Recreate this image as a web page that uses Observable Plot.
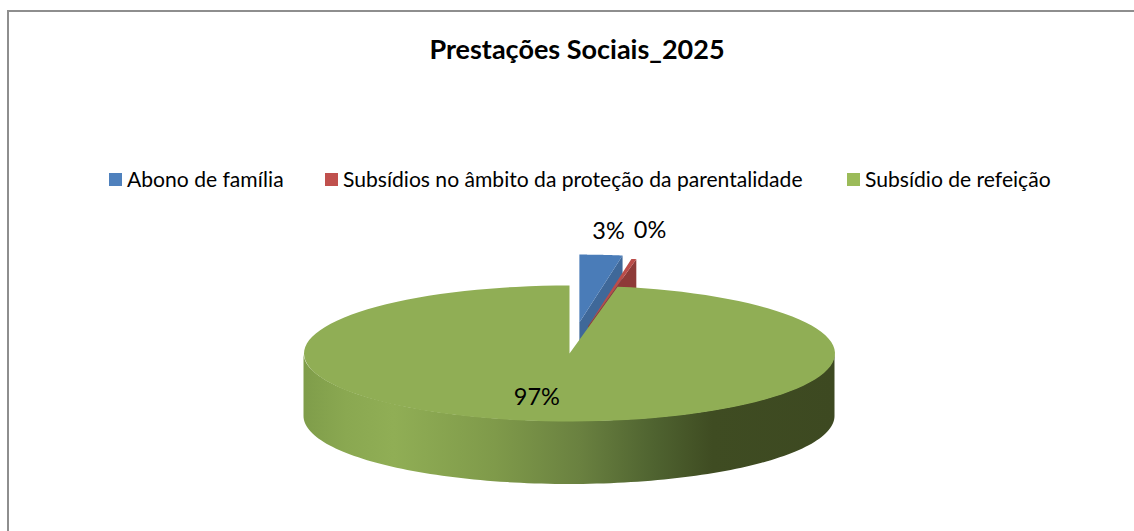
<!DOCTYPE html>
<html lang="pt">
<head>
<meta charset="utf-8">
<script src="https://cdn.jsdelivr.net/npm/d3@7"></script>
<script src="https://cdn.jsdelivr.net/npm/@observablehq/plot@0.6"></script>
<style>
  html, body { margin: 0; padding: 0; background: #fff; overflow: hidden; }
  #page { position: relative; width: 1134px; height: 531px; overflow: hidden; font-family: Lato, "Noto Sans", sans-serif; color: #000; }
  #frame { position: absolute; left: 7px; top: 10px; width: 1200px; height: 600px; border-left: 2px solid #8e8e8e; border-top: 2px solid #8e8e8e; }
  #title { position: absolute; left: 0; width: 1154px; top: 33px; text-align: center; font-size: 27px; font-weight: 700; line-height: 32px; white-space: nowrap; }
  #legend { position: absolute; top: 165.5px; left: 0; height: 26px; width: 1134px; font-size: 21.1px; line-height: 26px; }
  .item { position: absolute; top: 0; white-space: nowrap; }
  .swatch { position: absolute; left: 0; top: 7.5px; width: 13px; height: 13px; }
  .label { position: absolute; left: 18px; top: 0; }
  #chart { position: absolute; left: 0; top: 205px; }
  #chart svg { display: block; background: transparent; }
</style>
</head>
<body>
<div id="page">
  <div id="frame"></div>
  <div id="title"></div>
  <div id="legend"></div>
  <div id="chart"></div>
</div>
<script>
const titleText = "Prestações Sociais_2025";
const categories = ["Abono de família", "Subsídios no âmbito da proteção da parentalidade", "Subsídio de refeição"];
const values = [2.6, 0.3, 97.1];
const exploded = [0.456, 0.41, 0];
const legendColors = ["#4f81bd", "#c0504d", "#9bbb59"];
const topColors = ["#4a7cb8", "#bb4c49", "#90ae55"];
const wallColors = ["#3f6899", "#8e3a38", "url(#greenWall)"];
const legendLefts = [109, 325, 847];

document.getElementById("title").textContent = titleText;
const legend = d3.select("#legend");
categories.forEach((c, i) => {
  const it = legend.append("div").attr("class", "item").style("left", legendLefts[i] + "px");
  it.append("div").attr("class", "swatch").style("background", legendColors[i]);
  it.append("div").attr("class", "label").text(c);
});

// Pie geometry in unit-circle space; the x and y scales do the foreshortening.
const W = 1134, H = 326;
const pxX = 265.5, pxY = 68, cx = 569, cy = 148;
const depth = 0.926;
const total = d3.sum(values);
let acc = 0;
const slices = values.map((v, i) => {
  const a0 = acc / total * 2 * Math.PI;
  acc += v;
  const a1 = acc / total * 2 * Math.PI;
  const mid = (a0 + a1) / 2;
  return { i, a0, a1, mid, ox: exploded[i] * Math.sin(mid), oy: exploded[i] * Math.cos(mid),
           text: Math.round(v / total * 100) + "%" };
});
const rim = (s, a) => ({ x: s.ox + Math.sin(a), y: s.oy + Math.cos(a) });
const apex = s => ({ x: s.ox, y: s.oy });
const arc = (s, a0, a1) => d3.range(0, 121).map(k => rim(s, a0 + (a1 - a0) * k / 120));
const face = s => [apex(s), ...arc(s, s.a0, s.a1)];
const cutWall = s => {
  const p = apex(s), q = rim(s, s.a1);
  return [p, q, { x: q.x, y: q.y - depth }, { x: p.x, y: p.y - depth }];
};
// front half of the rim, visible below the top face
const frontWall = s => arc(s, Math.max(s.a0, Math.PI / 2), Math.min(s.a1, 3 * Math.PI / 2));

const marks = [
  () => {
    const ns = "http://www.w3.org/2000/svg";
    const defs = document.createElementNS(ns, "defs");
    const g = d3.select(defs).append("linearGradient").attr("id", "greenWall")
      .attr("x1", 0).attr("x2", 1).attr("y1", 0).attr("y2", 0);
    [[0, "#7f9d4a"], [0.08, "#8aa851"], [0.17, "#90ae55"], [0.36, "#7f9a4a"], [0.52, "#6a8140"],
     [0.66, "#4f6330"], [0.77, "#3f4c22"], [1, "#3d4921"]]
      .forEach(([o, c]) => g.append("stop").attr("offset", o).attr("stop-color", c));
    return defs;
  }
];
slices.filter(s => s.i < 2).forEach(s => {
  marks.push(Plot.line(cutWall(s), { x: "x", y: "y", fill: wallColors[s.i], stroke: "none" }));
  marks.push(Plot.line(face(s), { x: "x", y: "y", fill: topColors[s.i], stroke: "none" }));
});
const green = slices[2];
marks.push(Plot.areaY(frontWall(green), {
  x: "x", y1: d => d.y, y2: d => d.y - depth, fill: wallColors[2], stroke: "none"
}));
marks.push(Plot.line(face(green), { x: "x", y: "y", fill: topColors[2], stroke: "none" }));

const labelRadius = [1.8, 1.83, 0.65];
const labelNudge = [0, -3, -17];
slices.forEach(s => {
  marks.push(Plot.text([s], {
    x: d => labelRadius[d.i] * Math.sin(d.mid),
    y: d => labelRadius[d.i] * Math.cos(d.mid),
    text: "text", fontSize: 23.5, fill: "#000", fontFamily: "Lato, 'Noto Sans', sans-serif",
    dx: labelNudge[s.i]
  }));
});

const plot = Plot.plot({
  width: W, height: H,
  marginTop: 0, marginRight: 0, marginBottom: 0, marginLeft: 0,
  x: { domain: [-cx / pxX, (W - cx) / pxX], range: [0, W], axis: null },
  y: { domain: [(cy - H) / pxY, cy / pxY], range: [H, 0], axis: null },
  marks
});
document.getElementById("chart").appendChild(plot);
</script>
</body>
</html>
